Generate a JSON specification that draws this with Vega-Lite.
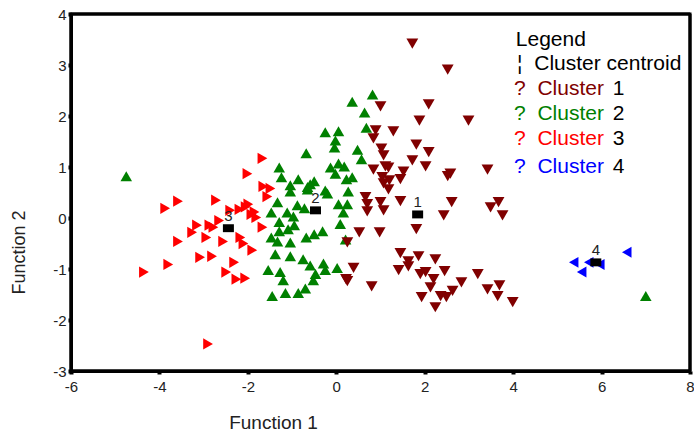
{
  "$schema": "https://vega.github.io/schema/vega-lite/v6.json",
  "width": 619,
  "height": 357,
  "autosize": "none",
  "padding": {"left": 71, "top": 14, "right": 4, "bottom": 62},
  "background": "white",
  "config": {
    "font": "Liberation Sans",
    "view": {"stroke": "#000000", "strokeWidth": 3},
    "axis": {
      "grid": false,
      "domainColor": "#000000", "domainWidth": 3,
      "tickColor": "#000000", "tickWidth": 4, "tickSize": 3,
      "labelFontSize": 15, "labelColor": "#222222", "labelFlush": false, "labelOverlap": false,
      "titleFontSize": 18, "titleFontWeight": "normal", "titleColor": "#222222"
    }
  },
  "datasets": {
    "points": [
      {"cluster": "Cluster 2", "f1": -4.75, "f2": 0.82}, {"cluster": "Cluster 2", "f1": 7.0, "f2": -1.53},
      {"cluster": "Cluster 2", "f1": 0.82, "f2": 2.42}, {"cluster": "Cluster 2", "f1": 0.36, "f2": 2.28},
      {"cluster": "Cluster 2", "f1": 0.64, "f2": 2.07}, {"cluster": "Cluster 2", "f1": 0.68, "f2": 1.77},
      {"cluster": "Cluster 2", "f1": -0.25, "f2": 1.68}, {"cluster": "Cluster 2", "f1": 0.05, "f2": 1.7},
      {"cluster": "Cluster 2", "f1": -0.02, "f2": 1.52}, {"cluster": "Cluster 2", "f1": -0.04, "f2": 1.38},
      {"cluster": "Cluster 2", "f1": 0.48, "f2": 1.34}, {"cluster": "Cluster 2", "f1": 0.57, "f2": 1.15},
      {"cluster": "Cluster 2", "f1": -0.68, "f2": 1.27}, {"cluster": "Cluster 2", "f1": -1.29, "f2": 0.99},
      {"cluster": "Cluster 2", "f1": -1.24, "f2": 0.8}, {"cluster": "Cluster 2", "f1": -0.13, "f2": 0.99},
      {"cluster": "Cluster 2", "f1": 0.05, "f2": 1.07}, {"cluster": "Cluster 2", "f1": 0.18, "f2": 1.01},
      {"cluster": "Cluster 2", "f1": -0.02, "f2": 0.87}, {"cluster": "Cluster 2", "f1": 0.36, "f2": 0.8},
      {"cluster": "Cluster 2", "f1": 0.23, "f2": 0.76}, {"cluster": "Cluster 2", "f1": -0.86, "f2": 0.76},
      {"cluster": "Cluster 2", "f1": -1.04, "f2": 0.64}, {"cluster": "Cluster 2", "f1": -0.59, "f2": 0.66},
      {"cluster": "Cluster 2", "f1": -0.5, "f2": 0.72}, {"cluster": "Cluster 2", "f1": -0.25, "f2": 0.54},
      {"cluster": "Cluster 2", "f1": -1.04, "f2": 0.52}, {"cluster": "Cluster 2", "f1": 0.27, "f2": 0.52},
      {"cluster": "Cluster 2", "f1": -0.65, "f2": 0.56}, {"cluster": "Cluster 2", "f1": -0.65, "f2": 0.61},
      {"cluster": "Cluster 2", "f1": -1.33, "f2": 0.31}, {"cluster": "Cluster 2", "f1": -1.47, "f2": 0.11},
      {"cluster": "Cluster 2", "f1": -1.11, "f2": 0.11}, {"cluster": "Cluster 2", "f1": -0.88, "f2": 0.25},
      {"cluster": "Cluster 2", "f1": -0.72, "f2": 0.19}, {"cluster": "Cluster 2", "f1": -0.2, "f2": 0.48},
      {"cluster": "Cluster 2", "f1": 0.05, "f2": 0.27}, {"cluster": "Cluster 2", "f1": 0.25, "f2": 0.27},
      {"cluster": "Cluster 2", "f1": 0.16, "f2": 0.11}, {"cluster": "Cluster 2", "f1": -0.97, "f2": 0.03},
      {"cluster": "Cluster 2", "f1": -1.29, "f2": -0.08}, {"cluster": "Cluster 2", "f1": -1.09, "f2": -0.22},
      {"cluster": "Cluster 2", "f1": -0.95, "f2": -0.14}, {"cluster": "Cluster 2", "f1": -1.29, "f2": -0.26},
      {"cluster": "Cluster 2", "f1": -1.47, "f2": -0.38}, {"cluster": "Cluster 2", "f1": -1.33, "f2": -0.46},
      {"cluster": "Cluster 2", "f1": -1.04, "f2": -0.48}, {"cluster": "Cluster 2", "f1": -0.68, "f2": -0.38},
      {"cluster": "Cluster 2", "f1": -0.5, "f2": -0.32}, {"cluster": "Cluster 2", "f1": -0.31, "f2": -0.26},
      {"cluster": "Cluster 2", "f1": 0.09, "f2": -0.12}, {"cluster": "Cluster 2", "f1": 0.21, "f2": -0.42},
      {"cluster": "Cluster 2", "f1": -1.38, "f2": -0.71}, {"cluster": "Cluster 2", "f1": -1.04, "f2": -0.75},
      {"cluster": "Cluster 2", "f1": -0.75, "f2": -0.81}, {"cluster": "Cluster 2", "f1": -0.59, "f2": -0.93},
      {"cluster": "Cluster 2", "f1": -0.29, "f2": -0.89}, {"cluster": "Cluster 2", "f1": -0.25, "f2": -1.02},
      {"cluster": "Cluster 2", "f1": 0.02, "f2": -0.98}, {"cluster": "Cluster 2", "f1": -1.54, "f2": -1.02},
      {"cluster": "Cluster 2", "f1": -1.27, "f2": -1.06}, {"cluster": "Cluster 2", "f1": -1.2, "f2": -1.22},
      {"cluster": "Cluster 2", "f1": -0.47, "f2": -1.1}, {"cluster": "Cluster 2", "f1": -0.52, "f2": -1.22},
      {"cluster": "Cluster 2", "f1": -0.7, "f2": -1.38}, {"cluster": "Cluster 2", "f1": -0.86, "f2": -1.47},
      {"cluster": "Cluster 2", "f1": -1.15, "f2": -1.47}, {"cluster": "Cluster 2", "f1": -1.45, "f2": -1.53},

      {"cluster": "Cluster 3", "f1": -1.67, "f2": 1.17}, {"cluster": "Cluster 3", "f1": -2.01, "f2": 0.87},
      {"cluster": "Cluster 3", "f1": -1.65, "f2": 0.62}, {"cluster": "Cluster 3", "f1": -1.49, "f2": 0.58},
      {"cluster": "Cluster 3", "f1": -1.56, "f2": 0.42}, {"cluster": "Cluster 3", "f1": -3.58, "f2": 0.33},
      {"cluster": "Cluster 3", "f1": -3.87, "f2": 0.19}, {"cluster": "Cluster 3", "f1": -2.72, "f2": 0.35},
      {"cluster": "Cluster 3", "f1": -1.99, "f2": 0.27}, {"cluster": "Cluster 3", "f1": -2.19, "f2": 0.17},
      {"cluster": "Cluster 3", "f1": -2.4, "f2": 0.15}, {"cluster": "Cluster 3", "f1": -1.92, "f2": 0.07},
      {"cluster": "Cluster 3", "f1": -1.81, "f2": 0.01}, {"cluster": "Cluster 3", "f1": -2.05, "f2": 0.22},
      {"cluster": "Cluster 3", "f1": -1.85, "f2": 0.12}, {"cluster": "Cluster 3", "f1": -2.65, "f2": -0.05},
      {"cluster": "Cluster 3", "f1": -2.87, "f2": -0.14}, {"cluster": "Cluster 3", "f1": -3.15, "f2": -0.14},
      {"cluster": "Cluster 3", "f1": -3.26, "f2": -0.28}, {"cluster": "Cluster 3", "f1": -2.78, "f2": -0.18},
      {"cluster": "Cluster 3", "f1": -1.67, "f2": -0.18}, {"cluster": "Cluster 3", "f1": -2.94, "f2": -0.38},
      {"cluster": "Cluster 3", "f1": -2.56, "f2": -0.46}, {"cluster": "Cluster 3", "f1": -2.17, "f2": -0.38},
      {"cluster": "Cluster 3", "f1": -2.1, "f2": -0.5}, {"cluster": "Cluster 3", "f1": -3.58, "f2": -0.46},
      {"cluster": "Cluster 3", "f1": -1.9, "f2": -0.63}, {"cluster": "Cluster 3", "f1": -3.08, "f2": -0.77},
      {"cluster": "Cluster 3", "f1": -2.81, "f2": -0.75}, {"cluster": "Cluster 3", "f1": -2.31, "f2": -0.87},
      {"cluster": "Cluster 3", "f1": -3.8, "f2": -0.91}, {"cluster": "Cluster 3", "f1": -4.35, "f2": -1.06},
      {"cluster": "Cluster 3", "f1": -2.49, "f2": -1.06}, {"cluster": "Cluster 3", "f1": -2.26, "f2": -1.2},
      {"cluster": "Cluster 3", "f1": -2.06, "f2": -1.18}, {"cluster": "Cluster 3", "f1": -2.9, "f2": -2.47},

      {"cluster": "Cluster 1", "f1": 1.72, "f2": 3.42}, {"cluster": "Cluster 1", "f1": 2.52, "f2": 2.91},
      {"cluster": "Cluster 1", "f1": 1.0, "f2": 2.19}, {"cluster": "Cluster 1", "f1": 2.09, "f2": 2.23},
      {"cluster": "Cluster 1", "f1": 1.88, "f2": 1.91}, {"cluster": "Cluster 1", "f1": 2.99, "f2": 1.91},
      {"cluster": "Cluster 1", "f1": 0.89, "f2": 1.72}, {"cluster": "Cluster 1", "f1": 1.29, "f2": 1.7},
      {"cluster": "Cluster 1", "f1": 0.84, "f2": 1.56}, {"cluster": "Cluster 1", "f1": 1.02, "f2": 1.36},
      {"cluster": "Cluster 1", "f1": 1.07, "f2": 1.23}, {"cluster": "Cluster 1", "f1": 1.81, "f2": 1.44},
      {"cluster": "Cluster 1", "f1": 2.09, "f2": 1.29}, {"cluster": "Cluster 1", "f1": 1.72, "f2": 1.13},
      {"cluster": "Cluster 1", "f1": 2.02, "f2": 1.01}, {"cluster": "Cluster 1", "f1": 1.11, "f2": 1.01},
      {"cluster": "Cluster 1", "f1": 0.84, "f2": 0.95}, {"cluster": "Cluster 1", "f1": 1.18, "f2": 0.99},
      {"cluster": "Cluster 1", "f1": 3.42, "f2": 0.95}, {"cluster": "Cluster 1", "f1": 1.52, "f2": 0.91},
      {"cluster": "Cluster 1", "f1": 2.58, "f2": 0.87}, {"cluster": "Cluster 1", "f1": 2.52, "f2": 0.82},
      {"cluster": "Cluster 1", "f1": 1.04, "f2": 0.8}, {"cluster": "Cluster 1", "f1": 1.2, "f2": 0.74},
      {"cluster": "Cluster 1", "f1": 1.45, "f2": 0.76}, {"cluster": "Cluster 1", "f1": 1.07, "f2": 0.68},
      {"cluster": "Cluster 1", "f1": 1.18, "f2": 0.56}, {"cluster": "Cluster 1", "f1": 0.66, "f2": 0.41},
      {"cluster": "Cluster 1", "f1": 0.7, "f2": 0.27}, {"cluster": "Cluster 1", "f1": 0.7, "f2": 0.13},
      {"cluster": "Cluster 1", "f1": 1.0, "f2": 0.31}, {"cluster": "Cluster 1", "f1": 1.07, "f2": 0.15},
      {"cluster": "Cluster 1", "f1": 1.45, "f2": 0.33}, {"cluster": "Cluster 1", "f1": 2.61, "f2": 0.31},
      {"cluster": "Cluster 1", "f1": 2.43, "f2": 0.05}, {"cluster": "Cluster 1", "f1": 3.67, "f2": 0.31},
      {"cluster": "Cluster 1", "f1": 3.49, "f2": 0.21}, {"cluster": "Cluster 1", "f1": 3.76, "f2": 0.05},
      {"cluster": "Cluster 1", "f1": 1.81, "f2": -0.22}, {"cluster": "Cluster 1", "f1": 0.52, "f2": -0.28},
      {"cluster": "Cluster 1", "f1": 0.98, "f2": -0.28}, {"cluster": "Cluster 1", "f1": 0.25, "f2": -0.48},
      {"cluster": "Cluster 1", "f1": 1.45, "f2": -0.69}, {"cluster": "Cluster 1", "f1": 1.86, "f2": -0.75},
      {"cluster": "Cluster 1", "f1": 1.63, "f2": -0.85}, {"cluster": "Cluster 1", "f1": 2.24, "f2": -0.81},
      {"cluster": "Cluster 1", "f1": 1.41, "f2": -1.02}, {"cluster": "Cluster 1", "f1": 1.63, "f2": -0.95},
      {"cluster": "Cluster 1", "f1": 1.9, "f2": -1.1}, {"cluster": "Cluster 1", "f1": 2.02, "f2": -1.06},
      {"cluster": "Cluster 1", "f1": 2.45, "f2": -1.04}, {"cluster": "Cluster 1", "f1": 3.2, "f2": -1.1},
      {"cluster": "Cluster 1", "f1": 0.39, "f2": -0.98}, {"cluster": "Cluster 1", "f1": 0.25, "f2": -1.24},
      {"cluster": "Cluster 1", "f1": 0.22, "f2": -1.2},
      {"cluster": "Cluster 1", "f1": 2.2, "f2": -1.2}, {"cluster": "Cluster 1", "f1": 2.13, "f2": -1.36},
      {"cluster": "Cluster 1", "f1": 2.83, "f2": -1.26}, {"cluster": "Cluster 1", "f1": 0.8, "f2": -1.34},
      {"cluster": "Cluster 1", "f1": 3.42, "f2": -1.4}, {"cluster": "Cluster 1", "f1": 3.69, "f2": -1.32},
      {"cluster": "Cluster 1", "f1": 3.65, "f2": -1.53}, {"cluster": "Cluster 1", "f1": 2.63, "f2": -1.43},
      {"cluster": "Cluster 1", "f1": 2.36, "f2": -1.53}, {"cluster": "Cluster 1", "f1": 2.49, "f2": -1.55},
      {"cluster": "Cluster 1", "f1": 1.93, "f2": -1.55}, {"cluster": "Cluster 1", "f1": 2.24, "f2": -1.75},
      {"cluster": "Cluster 1", "f1": 3.99, "f2": -1.65},

      {"cluster": "Cluster 4", "f1": 5.37, "f2": -0.87}, {"cluster": "Cluster 4", "f1": 5.71, "f2": -0.87},
      {"cluster": "Cluster 4", "f1": 5.96, "f2": -0.91}, {"cluster": "Cluster 4", "f1": 5.55, "f2": -1.06},
      {"cluster": "Cluster 4", "f1": 6.57, "f2": -0.67}
    ],
    "centroids": [
      {"label": "1", "f1": 1.84, "f2": 0.07},
      {"label": "2", "f1": -0.47, "f2": 0.15},
      {"label": "3", "f1": -2.44, "f2": -0.2},
      {"label": "4", "f1": 5.87, "f2": -0.87}
    ]
  },
  "layer": [
    {
      "data": {"name": "points"},
      "mark": {"type": "point", "filled": true, "opacity": 1, "strokeWidth": 0},
      "encoding": {
        "x": {
          "field": "f1", "type": "quantitative",
          "scale": {"domain": [-6, 8], "nice": false, "zero": false},
          "axis": {
            "title": "Function 1", "values": [-6, -4, -2, 0, 2, 4, 6, 8],
            "labelExpr": "'' + datum.value", "labelPadding": 5, "titleFontSize": 19,
            "domainColor": "#000000", "domainWidth": 3, "tickColor": "#000000", "tickWidth": 4, "tickSize": 3,
            "titleX": 202, "titleY": 51, "titleBaseline": "middle", "titleAlign": "center"
          }
        },
        "y": {
          "field": "f2", "type": "quantitative",
          "scale": {"domain": [-3, 4], "nice": false, "zero": false},
          "axis": {
            "title": "Function 2", "values": [-3, -2, -1, 0, 1, 2, 3, 4],
            "labelExpr": "'' + datum.value", "labelPadding": 2,
            "domainColor": "#000000", "domainWidth": 3, "tickColor": "#000000", "tickWidth": 4, "tickSize": 3,
            "titleX": -52, "titleY": 238, "titleBaseline": "middle", "titleAlign": "center"
          }
        },
        "color": {
          "field": "cluster", "type": "nominal", "legend": null,
          "scale": {"domain": ["Cluster 1", "Cluster 2", "Cluster 3", "Cluster 4"],
                    "range": ["#800000", "#008000", "#ff0000", "#0000ff"]}
        },
        "shape": {
          "field": "cluster", "type": "nominal", "legend": null,
          "scale": {"domain": ["Cluster 1", "Cluster 2", "Cluster 3", "Cluster 4"],
                    "range": ["triangle-down", "triangle-up", "triangle-right", "triangle-left"]}
        },
        "size": {
          "field": "cluster", "type": "nominal", "legend": null,
          "scale": {"domain": ["Cluster 1", "Cluster 2", "Cluster 3", "Cluster 4"],
                    "range": [140, 120, 130, 50]}
        }
      }
    },
    {
      "data": {"values": [{"edge": "left"}]},
      "mark": {"type": "rule", "color": "#000000", "strokeWidth": 3},
      "encoding": {"x": {"datum": -6}, "y": {"datum": -3}, "y2": {"datum": 4}}
    },
    {
      "data": {"values": [{"edge": "right"}]},
      "mark": {"type": "rule", "color": "#000000", "strokeWidth": 3},
      "encoding": {"x": {"datum": 8}, "y": {"datum": -3}, "y2": {"datum": 4}}
    },
    {
      "data": {"values": [{"edge": "top"}]},
      "mark": {"type": "rule", "color": "#000000", "strokeWidth": 3},
      "encoding": {"y": {"datum": 4}, "x": {"datum": -6}, "x2": {"datum": 8}}
    },
    {
      "data": {"values": [{"edge": "bottom"}]},
      "mark": {"type": "rule", "color": "#000000", "strokeWidth": 3},
      "encoding": {"y": {"datum": -3}, "x": {"datum": -6}, "x2": {"datum": 8}}
    },
    {
      "data": {"name": "centroids"},
      "mark": {"type": "point", "filled": true, "opacity": 1, "color": "black", "strokeWidth": 0,
               "shape": "M-1,-0.72H1V0.72H-1Z", "size": 121},
      "encoding": {
        "x": {"field": "f1", "type": "quantitative"},
        "y": {"field": "f2", "type": "quantitative"}
      }
    },
    {
      "data": {"name": "centroids"},
      "mark": {"type": "text", "dy": -12, "fontSize": 15, "color": "#222222", "baseline": "middle"},
      "encoding": {
        "x": {"field": "f1", "type": "quantitative"},
        "y": {"field": "f2", "type": "quantitative"},
        "text": {"field": "label"}
      }
    },
    {
      "data": {"values": [{"t": "Legend"}]},
      "mark": {"type": "text", "align": "left", "baseline": "middle", "fontSize": 21, "color": "#000000"},
      "encoding": {"x": {"datum": 4.06}, "y": {"datum": 3.49}, "text": {"field": "t"}}
    },
    {
      "data": {"values": [{"t": "¦\u00a0\u00a0Cluster centroid"}]},
      "mark": {"type": "text", "align": "left", "baseline": "middle", "fontSize": 21, "color": "#000000"},
      "encoding": {"x": {"datum": 4.09}, "y": {"datum": 3.01}, "text": {"field": "t"}}
    },
    {
      "data": {"values": [{"t": "?\u00a0\u00a0Cluster"}]},
      "mark": {"type": "text", "align": "left", "baseline": "middle", "fontSize": 21, "color": "#800000"},
      "encoding": {"x": {"datum": 4.02}, "y": {"datum": 2.52}, "text": {"field": "t"}}
    },
    {
      "data": {"values": [{"t": "?\u00a0\u00a0Cluster"}]},
      "mark": {"type": "text", "align": "left", "baseline": "middle", "fontSize": 21, "color": "#008000"},
      "encoding": {"x": {"datum": 4.02}, "y": {"datum": 2.03}, "text": {"field": "t"}}
    },
    {
      "data": {"values": [{"t": "?\u00a0\u00a0Cluster"}]},
      "mark": {"type": "text", "align": "left", "baseline": "middle", "fontSize": 21, "color": "#ff0000"},
      "encoding": {"x": {"datum": 4.02}, "y": {"datum": 1.54}, "text": {"field": "t"}}
    },
    {
      "data": {"values": [{"t": "?\u00a0\u00a0Cluster"}]},
      "mark": {"type": "text", "align": "left", "baseline": "middle", "fontSize": 21, "color": "#0000ff"},
      "encoding": {"x": {"datum": 4.02}, "y": {"datum": 1.0}, "text": {"field": "t"}}
    },
    {
      "data": {"values": [{"t": "1"}]},
      "mark": {"type": "text", "align": "left", "baseline": "middle", "fontSize": 21, "color": "#000000"},
      "encoding": {"x": {"datum": 6.25}, "y": {"datum": 2.52}, "text": {"field": "t"}}
    },
    {
      "data": {"values": [{"t": "2"}]},
      "mark": {"type": "text", "align": "left", "baseline": "middle", "fontSize": 21, "color": "#000000"},
      "encoding": {"x": {"datum": 6.25}, "y": {"datum": 2.03}, "text": {"field": "t"}}
    },
    {
      "data": {"values": [{"t": "3"}]},
      "mark": {"type": "text", "align": "left", "baseline": "middle", "fontSize": 21, "color": "#000000"},
      "encoding": {"x": {"datum": 6.25}, "y": {"datum": 1.54}, "text": {"field": "t"}}
    },
    {
      "data": {"values": [{"t": "4"}]},
      "mark": {"type": "text", "align": "left", "baseline": "middle", "fontSize": 21, "color": "#000000"},
      "encoding": {"x": {"datum": 6.25}, "y": {"datum": 1.0}, "text": {"field": "t"}}
    }
  ]
}
